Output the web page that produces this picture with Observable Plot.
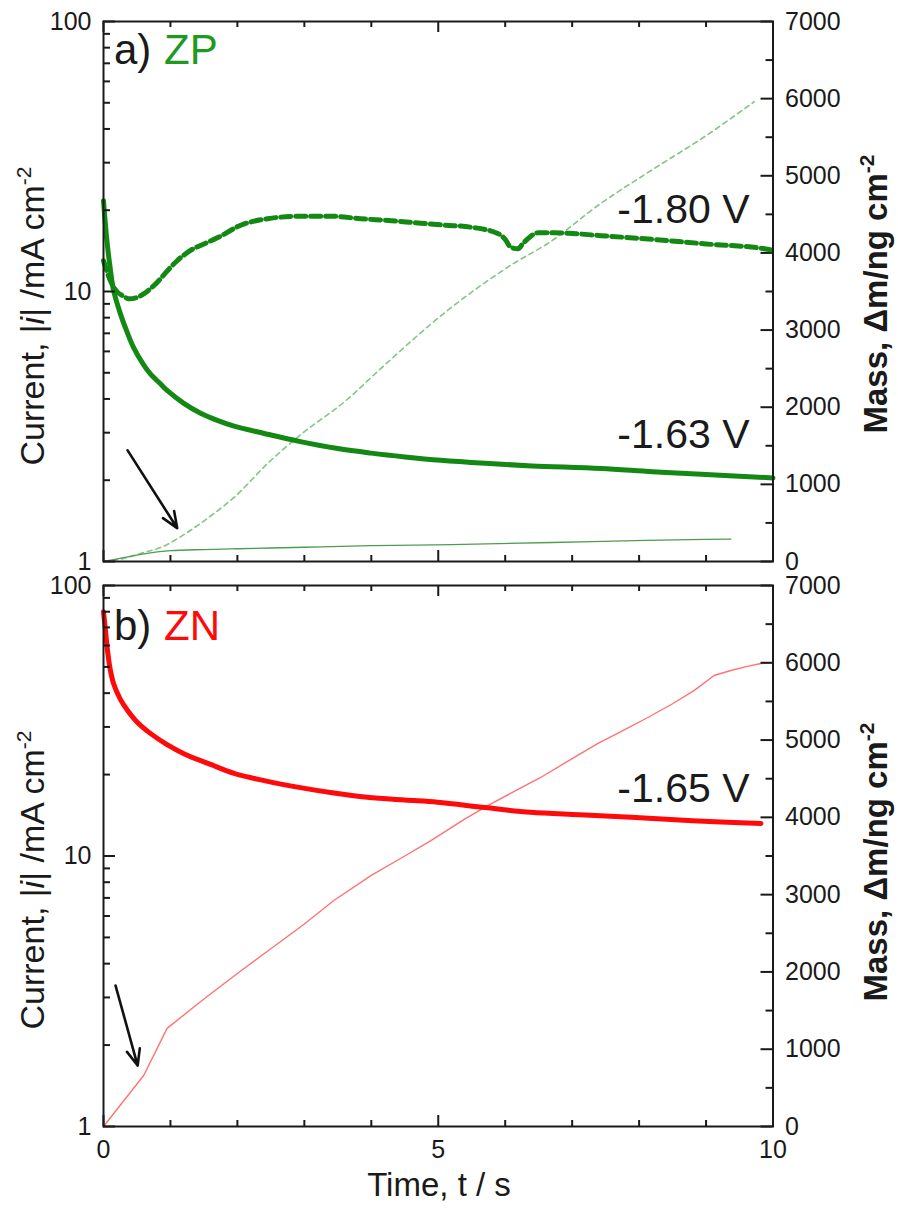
<!DOCTYPE html>
<html><head><meta charset="utf-8">
<script src="https://cdn.jsdelivr.net/npm/d3@7"></script>
<script src="https://cdn.jsdelivr.net/npm/@observablehq/plot@0.6"></script>
<style>
body{margin:0;background:#fff;}
#chart{position:relative;width:898px;height:1213px;font-family:"Liberation Sans",Arial,sans-serif;}
#chart > svg{position:absolute;left:0;overflow:visible;}
</style></head><body><div id="chart"></div>
<script>
// ---------- data ----------
// Panel a (ZP): current at -1.63 V
const zp163_t = [0, 0.05, 0.1, 0.15, 0.25, 0.35, 0.45, 0.6, 0.7, 0.85, 0.95, 1.2, 1.45, 1.7, 1.95, 2.4, 2.94, 3.5, 4, 4.5, 5.04, 5.7, 6.4, 7.43, 8.2, 9, 10];
const zp163_i = [21.7, 15.5, 12.2, 10.1, 8.3, 7.1, 6.2, 5.35, 4.95, 4.55, 4.3, 3.85, 3.54, 3.33, 3.17, 2.98, 2.78, 2.62, 2.52, 2.44, 2.37, 2.31, 2.26, 2.21, 2.15, 2.1, 2.04];
// Panel a (ZP): current at -1.80 V
const zp180_t = [0, 0.1, 0.2, 0.3, 0.38, 0.5, 0.6, 0.8, 0.95, 1.1, 1.3, 1.5, 1.7, 2.05, 2.45, 2.94, 3.4, 3.84, 4.3, 4.74, 5.1, 5.49, 5.89, 6.0, 6.08, 6.19, 6.26, 6.34, 6.49, 6.73, 7.0, 7.43, 8.2, 9.0, 9.87, 10];
const zp180_i = [13, 11, 10, 9.6, 9.4, 9.5, 9.8, 10.8, 11.9, 13.0, 14.2, 15.0, 15.8, 17.6, 18.6, 19.0, 19.0, 18.6, 18.3, 17.9, 17.6, 17.3, 16.4, 15.6, 14.6, 14.4, 15.0, 15.7, 16.5, 16.5, 16.4, 16.1, 15.6, 15.0, 14.4, 14.2];
// Panel a (ZP): mass at -1.80 V (dashed) and -1.63 V (thin solid)
const zp180m_t = [0, 0.3, 0.6, 0.85, 1.25, 1.65, 1.95, 2.45, 2.94, 3.64, 4.14, 5.14, 6.13, 6.64, 7.43, 8.2, 9.0, 9.72];
const zp180m_m = [0, 40, 117, 180, 376, 622, 830, 1270, 1640, 2100, 2500, 3255, 3865, 4125, 4643, 5080, 5520, 5960];
const zp163m_t = [0, 0.3, 0.6, 1, 1.5, 2, 3, 4, 5.2, 6.7, 8.1, 9.37];
const zp163m_m = [0, 50, 100, 140, 155, 165, 185, 205, 220, 246, 275, 290];
// Panel b (ZN): current and mass at -1.65 V
const zn_t = [0, 0.03, 0.06, 0.1, 0.15, 0.25, 0.36, 0.5, 0.7, 0.95, 1.2, 1.6, 1.95, 2.4, 2.94, 3.44, 3.94, 4.5, 4.99, 5.7, 6.38, 7.1, 7.88, 8.8, 9.82];
const zn_i = [80, 68, 57.5, 49, 43.4, 38, 34.5, 31.3, 28.4, 25.8, 23.9, 21.8, 20.2, 19.0, 17.9, 17.1, 16.5, 16.1, 15.8, 15.1, 14.5, 14.2, 13.9, 13.5, 13.2];
const znm_t = [0, 0.3, 0.6, 0.95, 1.5, 2, 2.5, 3, 3.44, 4, 4.5, 4.89, 5.4, 5.74, 6.1, 6.53, 7, 7.38, 7.75, 8.13, 8.5, 8.82, 9.12, 9.37, 9.6, 9.82, 9.97];
const znm_m = [0, 330, 660, 1270, 1650, 1980, 2300, 2620, 2924, 3250, 3500, 3700, 3980, 4153, 4320, 4516, 4760, 4955, 5120, 5292, 5470, 5640, 5835, 5900, 5950, 5990, 6000];

// ticks
const xMajor = [0, 5, 10];
const xMinor = [1, 2, 3, 4, 6, 7, 8, 9];
const yMajor = [1, 10, 100];
const yMinor = [2, 3, 4, 5, 6, 7, 8, 9, 20, 30, 40, 50, 60, 70, 80, 90];
const mMajor = [0, 1000, 2000, 3000, 4000, 5000, 6000, 7000];
const mMinor = [500, 1500, 2500, 3500, 4500, 5500, 6500];

// labels
const potentials = ["-1.80 V", "-1.63 V", "-1.65 V"];
const panelTags = ["a)", "b)"];
const sampleNames = ["ZP", "ZN"];

// ---------- helpers ----------
const tbl = (t, v) => t.map((d, i) => ({t: d, v: v[i]}));
const FONT = "Liberation Sans, Arial, sans-serif";
const GREEN = "#138813", GREEN_TXT = "#1f9a1f", GREEN_LIGHT = "#86c486", GREEN_THIN = "#4f9c4f";
const RED = "#ff0a0a", RED_LIGHT = "#ff7272";
const INK = "#1a1a1a";
const W = 898, ML = 103, MR = 898 - 772.5;
const PW = W - ML - MR;
const tkStyle = {stroke: INK, strokeWidth: 2};

// inward tick marks drawn as short Plot rules (inset from the full frame span)
const ticksLeft = (v, n) => Plot.ruleY(v, {y: d => d, insetRight: PW - n, ...tkStyle});
const ticksRight = (v, n) => Plot.ruleY(v, {y: d => d, insetLeft: PW - n, ...tkStyle});
const ticksBottom = (v, n, ph) => Plot.ruleX(v, {x: d => d, insetTop: ph - n, ...tkStyle});
const ticksTop = (v, n, ph) => Plot.ruleX(v, {x: d => d, insetBottom: ph - n, ...tkStyle});

function massPlot(height, mt, mb, marks) {
  return Plot.plot({
    width: W, height, marginLeft: ML, marginRight: MR, marginTop: mt, marginBottom: mb,
    style: {fontFamily: FONT, background: "transparent", overflow: "visible"},
    x: {domain: [0, 10], axis: null},
    y: {domain: [0, 7000]},
    marks: [
      ...marks,
      ticksRight(mMinor, 7), ticksRight(mMajor, 12),
      Plot.axisY({anchor: "right", ticks: mMajor, tickSize: 0, tickPadding: 12, fontSize: 25, fill: INK, label: null, tickFormat: d => String(d)})
    ]
  });
}

function currentPlot(height, mt, mb, marks) {
  const ph = height - mt - mb;
  return Plot.plot({
    width: W, height, marginLeft: ML, marginRight: MR, marginTop: mt, marginBottom: mb,
    style: {fontFamily: FONT, background: "transparent", overflow: "visible"},
    x: {domain: [0, 10], axis: null},
    y: {type: "log", domain: [1, 100]},
    marks: [
      ...marks,
      ticksBottom(xMinor, 6, ph), ticksBottom(xMajor, 11, ph),
      ticksTop(xMinor, 6, ph), ticksTop(xMajor, 11, ph),
      ticksLeft(yMinor, 7), ticksLeft(yMajor, 12),
      Plot.axisY({anchor: "left", ticks: yMajor, tickSize: 0, tickPadding: 12, fontSize: 25, fill: INK, label: null, tickFormat: d => String(d)}),
      Plot.frame({stroke: INK, strokeWidth: 2})
    ]
  });
}

function addTitles(svg, leftCy, rightCy) {
  const s = d3.select(svg);
  const l = s.append("text").attr("transform", `translate(44,${leftCy}) rotate(-90)`)
    .attr("text-anchor", "middle").attr("font-size", 34).attr("fill", INK).attr("font-family", FONT);
  l.append("tspan").text("Current, |");
  l.append("tspan").attr("font-style", "italic").text("i");
  l.append("tspan").text("| /mA cm");
  l.append("tspan").attr("dy", -13).attr("font-size", 21).text("-2");
  const r = s.append("text").attr("transform", `translate(887,${rightCy}) rotate(-90)`)
    .attr("text-anchor", "middle").attr("font-size", 33).attr("font-weight", "bold").attr("fill", INK).attr("font-family", FONT);
  r.append("tspan").text("Mass, \u0394m/ng cm");
  r.append("tspan").attr("dy", -13).attr("font-size", 21).text("-2");
}

function addTag(svg, baseline, tag, name, color) {
  const s = d3.select(svg);
  s.append("text").attr("x", 114).attr("y", baseline).attr("text-anchor", "start").attr("font-size", 42).attr("fill", INK).attr("font-family", FONT).text(tag);
  s.append("text").attr("x", 164).attr("y", baseline).attr("text-anchor", "start").attr("font-size", 42).attr("fill", color).attr("font-family", FONT).text(name);
}

const root = document.getElementById("chart");
function place(svg, top) { svg.style.top = top + "px"; root.appendChild(svg); }

// ---------- panel a ----------
const HA = 573, MTA = 21, MBA = 12;
const massA = massPlot(HA, MTA, MBA, [
  Plot.line(tbl(zp180m_t, zp180m_m), {x: "t", y: "v", stroke: GREEN_LIGHT, strokeWidth: 1.6, strokeDasharray: "5,4", curve: "monotone-x"}),
  Plot.line(tbl(zp163m_t, zp163m_m), {x: "t", y: "v", stroke: GREEN_THIN, strokeWidth: 1.3, curve: "monotone-x"})
]);
const curA = currentPlot(HA, MTA, MBA, [
  Plot.line(tbl(zp180_t, zp180_i), {x: "t", y: "v", stroke: GREEN, strokeWidth: 5, strokeDasharray: "10,5", curve: "monotone-x"}),
  Plot.line(tbl(zp163_t, zp163_i), {x: "t", y: "v", stroke: GREEN, strokeWidth: 5, curve: "catmull-rom"}),
  Plot.text([potentials[0]], {x: 9.65, y: 18.0, text: d => d, textAnchor: "end", lineAnchor: "bottom", fontSize: 41, fill: INK}),
  Plot.text([potentials[1]], {x: 9.65, y: 2.64, text: d => d, textAnchor: "end", lineAnchor: "bottom", fontSize: 41, fill: INK}),
  Plot.arrow([0], {x1: 0.36, y1: 2.58, x2: 1.1, y2: 1.33, stroke: "#111", strokeWidth: 2.6, headLength: 10, headAngle: 45})
]);
addTitles(curA, 316, 294);
addTag(curA, 64, panelTags[0], sampleNames[0], GREEN_TXT);
place(massA, 0); place(curA, 0);

// ---------- panel b ----------
const HB = 640, MTB = 12, MBB = 87;
const massB = massPlot(HB, MTB, MBB, [
  Plot.line(tbl(znm_t, znm_m), {x: "t", y: "v", stroke: RED_LIGHT, strokeWidth: 1.4})
]);
const curB = currentPlot(HB, MTB, MBB, [
  Plot.line(tbl(zn_t, zn_i), {x: "t", y: "v", stroke: RED, strokeWidth: 5, curve: "catmull-rom"}),
  Plot.text([potentials[2]], {x: 9.65, y: 15.8, text: d => d, textAnchor: "end", lineAnchor: "bottom", fontSize: 41, fill: INK}),
  Plot.arrow([0], {x1: 0.18, y1: 3.32, x2: 0.51, y2: 1.68, stroke: "#111", strokeWidth: 2.6, headLength: 10, headAngle: 45}),
  Plot.axisX({anchor: "bottom", ticks: xMajor, tickSize: 0, tickPadding: 14, fontSize: 25, fill: INK, label: null, tickFormat: d => String(d)})
]);
addTitles(curB, 307, 289);
addTag(curB, 67, panelTags[1], sampleNames[1], RED);
d3.select(curB).append("text").attr("x", 439).attr("y", 623).attr("text-anchor", "middle")
  .attr("font-size", 33).attr("fill", INK).attr("font-family", FONT).text("Time, t / s");
place(massB, HA); place(curB, HA);
</script></body></html>
